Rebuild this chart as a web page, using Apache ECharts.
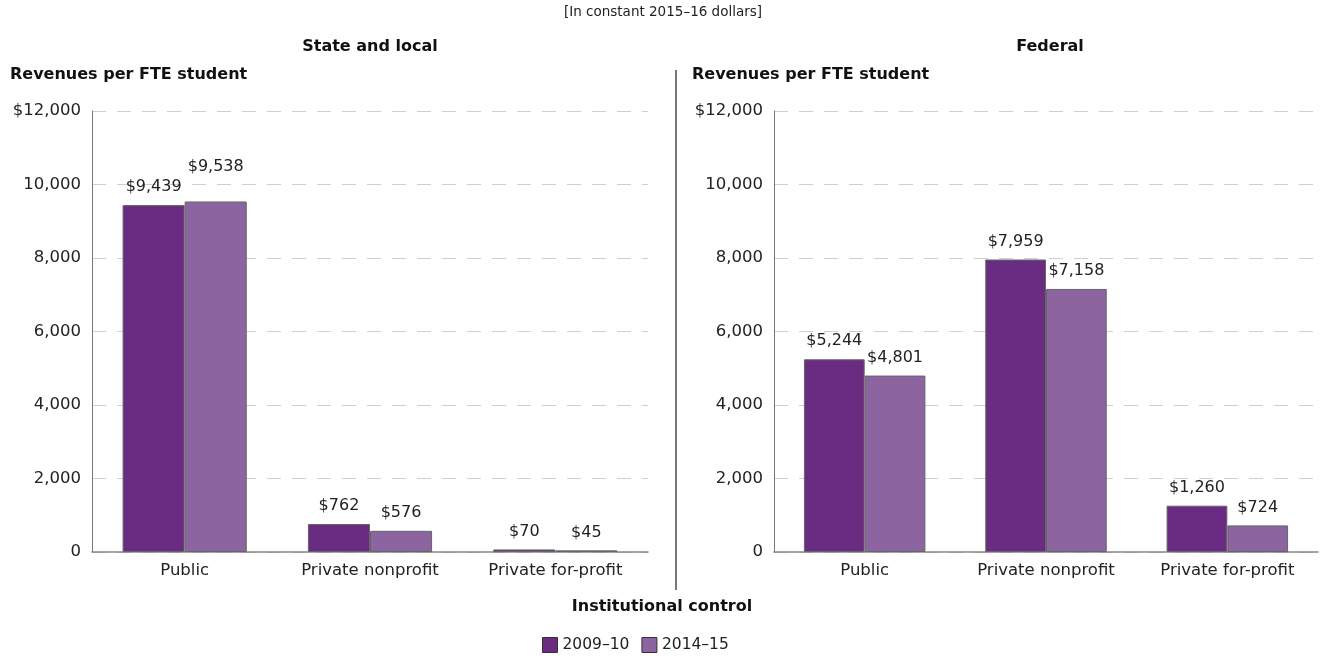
<!DOCTYPE html>
<html>
<head>
<meta charset="utf-8">
<style>
  html, body { margin: 0; padding: 0; background: #fff; }
  #chart { width: 1325px; height: 663px; }
</style>
<script src="https://cdn.jsdelivr.net/npm/echarts@6/dist/echarts.min.js"></script>
</head>
<body>
<div id="chart"></div>
<script>
// Revenues per FTE student by institutional control, constant 2015–16 dollars
const categories = ['Public', 'Private nonprofit', 'Private for-profit'];
const years = ['2009–10', '2014–15'];
const stateLocal2009 = [9439, 762, 70];
const stateLocal2014 = [9538, 576, 45];
const federal2009 = [5244, 7959, 1260];
const federal2014 = [4801, 7158, 724];
const yTicks = [0, 2000, 4000, 6000, 8000, 10000, 12000];

const FONT = '"DejaVu Sans", sans-serif';
const DARK = '#6a2c82';
const LIGHT = '#8b64a0';
const TEXT = '#222';

const chart = echarts.init(document.getElementById('chart'));

function yAxis(gridIndex) {
  return {
    type: 'value', gridIndex,
    min: yTicks[0], max: yTicks[yTicks.length - 1], interval: yTicks[1] - yTicks[0],
    axisLine: { show: true, lineStyle: { color: '#777', width: 1 } },
    axisTick: { show: false },
    splitLine: { show: true, lineStyle: { color: '#cfcfcf', type: [14, 11], width: 1 } },
    axisLabel: {
      color: TEXT, fontFamily: FONT, fontSize: 16.5, margin: 11,
      formatter: v => (v === yTicks[yTicks.length - 1] ? '$' : '') + v.toLocaleString('en-US')
    }
  };
}
function xAxis(gridIndex) {
  return {
    type: 'category', gridIndex, data: categories,
    axisLine: { show: true, lineStyle: { color: '#888', width: 1.5 } },
    axisTick: { show: false },
    axisLabel: { color: TEXT, fontFamily: FONT, fontSize: 16.5, margin: 10 }
  };
}
// raised: indices whose value label sits higher to clear its neighbour
function bars(name, values, idx, color, raised) {
  return {
    type: 'bar', name, xAxisIndex: idx, yAxisIndex: idx,
    data: values.map((v, i) => (raised && raised.includes(i))
      ? { value: v, label: { distance: 27 } } : v),
    barWidth: '33.5%', barGap: '0%',
    itemStyle: { color, borderColor: '#666', borderWidth: 1 },
    label: {
      show: true, position: 'top', distance: 10, color: TEXT,
      fontFamily: FONT, fontSize: 16,
      formatter: p => '$' + p.value.toLocaleString('en-US')
    }
  };
}

chart.setOption({
  animation: false,
  textStyle: { fontFamily: FONT },
  grid: [
    { left: 92, right: 677, top: 111, bottom: 111 },
    { left: 774, right: 7, top: 111, bottom: 111 }
  ],
  xAxis: [xAxis(0), xAxis(1)],
  yAxis: [yAxis(0), yAxis(1)],
  legend: {
    data: years, bottom: 5, left: 537,
    itemWidth: 15, itemHeight: 15, itemGap: 12,
    icon: 'rect',
    itemStyle: { borderColor: '#3d2f33', borderWidth: 1 },
    textStyle: { color: TEXT, fontFamily: FONT, fontSize: 15.5 }
  },
  series: [
    bars(years[0], stateLocal2009, 0, DARK),
    bars(years[1], stateLocal2014, 0, LIGHT, [0]),
    bars(years[0], federal2009, 1, DARK),
    bars(years[1], federal2014, 1, LIGHT)
  ],
  graphic: [
    { type: 'text', x: 663, y: 5,
      style: { text: '[In constant 2015–16 dollars]', fill: TEXT, font: '13.5px ' + FONT, textAlign: 'center' } },
    { type: 'text', x: 370, y: 39,
      style: { text: 'State and local', fill: '#111', font: 'bold 16px ' + FONT, textAlign: 'center' } },
    { type: 'text', x: 1050, y: 39,
      style: { text: 'Federal', fill: '#111', font: 'bold 16px ' + FONT, textAlign: 'center' } },
    { type: 'text', x: 10, y: 67,
      style: { text: 'Revenues per FTE student', fill: '#111', font: 'bold 16px ' + FONT } },
    { type: 'text', x: 692, y: 67,
      style: { text: 'Revenues per FTE student', fill: '#111', font: 'bold 16px ' + FONT } },
    { type: 'text', x: 662, y: 599,
      style: { text: 'Institutional control', fill: '#111', font: 'bold 16px ' + FONT, textAlign: 'center' } },
    { type: 'line', shape: { x1: 676, y1: 70, x2: 676, y2: 590 },
      style: { stroke: '#777', lineWidth: 2 } }
  ]
});
</script>
</body>
</html>
